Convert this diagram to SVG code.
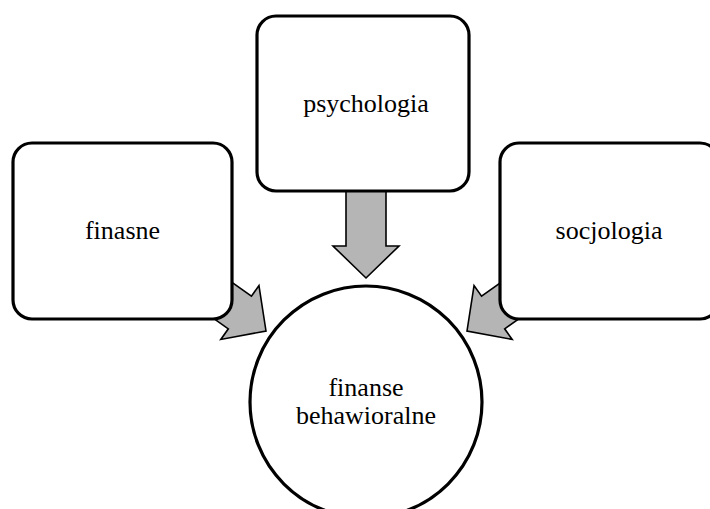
<svg xmlns="http://www.w3.org/2000/svg" width="710" height="509" viewBox="0 0 710 509">
<style>
.box{fill:#fff;stroke:#000;stroke-width:3.2}
.arr{fill:#b5b5b5;stroke:#000;stroke-width:1.6;stroke-linejoin:miter}
.t{font-family:"Liberation Serif","Times New Roman",serif;font-size:26px;fill:#000;text-anchor:middle}
</style>
<defs>
<polygon id="arrowShape" class="arr" points="0,0 -32,-33 -32,-20 -100,-20 -100,20 -32,20 -32,33"/>
</defs>
<rect width="710" height="509" fill="#fff"/>
<g id="connectors">
<use href="#arrowShape" transform="translate(266,331) rotate(35.3)"/>
<use href="#arrowShape" transform="translate(467,331) scale(-1,1) rotate(35.3)"/>
<use href="#arrowShape" transform="translate(366,278) rotate(90)"/>
</g>
<g id="node-finasne">
<rect class="box" x="13" y="143" width="219" height="176" rx="19"/>
<text class="t" x="122.5" y="239">finasne</text>
</g>
<g id="node-psychologia">
<rect class="box" x="257" y="16" width="212" height="175" rx="19"/>
<text class="t" x="366" y="112">psychologia</text>
</g>
<g id="node-socjologia">
<rect class="box" x="500" y="143" width="219" height="176" rx="19"/>
<text class="t" x="609" y="239">socjologia</text>
</g>
<g id="node-finanse-behawioralne">
<circle class="box" cx="366" cy="402" r="116"/>
<text class="t" x="366" y="396">finanse</text>
<text class="t" x="366" y="424">behawioralne</text>
</g>
</svg>
